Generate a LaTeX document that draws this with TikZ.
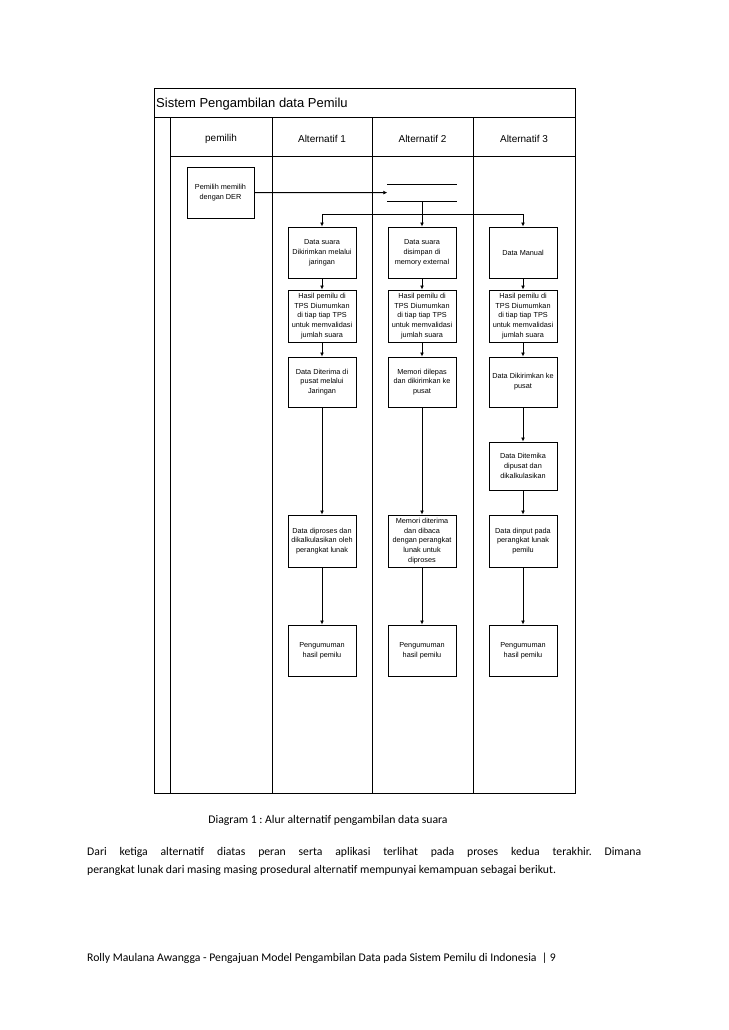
\documentclass[tikz,border=0pt]{standalone}
\usepackage{fontspec}
\setmainfont{Liberation Sans}
\newfontfamily\calib{Carlito}
\usetikzlibrary{arrows.meta}
\frenchspacing
\begin{document}
\begin{tikzpicture}[x=1pt,y=-1pt,
  ln/.style={line width=1pt},
  box/.style={draw,line width=1pt,minimum width=68pt,inner sep=1pt,align=center,font=\fontsize{7.3}{9.8}\selectfont},
  arr/.style={line width=1pt,-{Latex[length=4pt,width=4pt]}},
  hdr/.style={font=\fontsize{10}{12}\selectfont,inner sep=0},
  body/.style={font=\calib\fontsize{11.7}{14}\selectfont,inner sep=0,anchor=base west}]
\fill[white] (0,0) rectangle (728,1030);
\useasboundingbox (0,0) rectangle (728,1030);
% frame
\draw[ln] (154.5,89) rectangle (575,793);
\draw[ln] (154.5,118) -- (575,118);
\draw[ln] (170.5,118) -- (170.5,793);
\draw[ln] (170.5,156) -- (575,156);
\draw[ln] (272,118) -- (272,793);
\draw[ln] (372.5,118) -- (372.5,793);
\draw[ln] (473.5,118) -- (473.5,793);
\node[font=\fontsize{13}{15}\selectfont,inner sep=0,anchor=west] (title) at (156,104.5) {Sistem Pengambilan data Pemilu};
\node[hdr] (h0) at (221,139) {pemilih};
\node[hdr] (h1) at (322,139) {Alternatif 1};
\node[hdr] (h2) at (422.5,139) {Alternatif 2};
\node[hdr] (h3) at (524,139) {Alternatif 3};
% pemilih
\node[box,minimum width=67pt,minimum height=51pt] (der) at (220.5,192.5) {Pemilih memilih\\dengan DER};
% store
\node[minimum width=69pt,minimum height=16.7pt,inner sep=0] (store) at (422,192.6) {};
\draw[ln] (store.north west) -- (store.north east);
\draw[ln] (store.south west) -- (store.south east);
% row 1
\node[box,minimum height=51pt] (a1r1) at (322,252.5) {Data suara\\Dikirimkan melalui\\jaringan};
\node[box,minimum height=51pt] (a2r1) at (422,252.5) {Data suara\\disimpan di\\memory external};
\node[box,minimum height=51pt] (a3r1) at (523,252.5) {Data Manual};
% row 2
\node[box,minimum height=52pt] (a1r2) at (322,316) {Hasil pemilu di\\TPS Diumumkan\\di tiap tiap TPS\\untuk memvalidasi\\jumlah suara};
\node[box,minimum height=52pt] (a2r2) at (422,316) {Hasil pemilu di\\TPS Diumumkan\\di tiap tiap TPS\\untuk memvalidasi\\jumlah suara};
\node[box,minimum height=52pt] (a3r2) at (523,316) {Hasil pemilu di\\TPS Diumumkan\\di tiap tiap TPS\\untuk memvalidasi\\jumlah suara};
% row 3
\node[box,minimum height=50pt] (a1r3) at (322,382) {Data Diterima di\\pusat melalui\\Jaringan};
\node[box,minimum height=50pt] (a2r3) at (422,382) {Memori dilepas\\dan dikirimkan ke\\pusat};
\node[box,minimum height=50pt] (a3r3) at (523,382) {Data Dikirimkan ke\\pusat};
% row 4
\node[box,minimum height=48pt] (a3r4) at (523,466) {Data Ditemika\\dipusat dan\\dikalkulasikan};
% row 5
\node[box,minimum height=52pt] (a1r5) at (322,541) {Data diproses dan\\dikalkulasikan oleh\\perangkat lunak};
\node[box,minimum height=52pt] (a2r5) at (422,541) {Memori diterima\\dan dibaca\\dengan perangkat\\lunak untuk\\diproses};
\node[box,minimum height=52pt] (a3r5) at (523,541) {Data dinput pada\\perangkat lunak\\pemilu};
% row 6
\node[box,minimum height=51pt] (a1r6) at (322,650.5) {Pengumuman\\hasil pemilu};
\node[box,minimum height=51pt] (a2r6) at (422,650.5) {Pengumuman\\hasil pemilu};
\node[box,minimum height=51pt] (a3r6) at (523,650.5) {Pengumuman\\hasil pemilu};
% connectors
\draw[arr] (der.east) -- (store.west);
\coordinate (bl) at (a1r1.north |- 0,214.3);
\coordinate (br) at (a3r1.north |- 0,214.3);
\draw[ln] (bl) -- (br);
\draw[arr] (bl) -- (a1r1.north);
\draw[arr] (br) -- (a3r1.north);
\draw[arr] (store.south) -- (a2r1.north);
\foreach \c in {a1,a2,a3}{
  \draw[arr] (\c r1.south) -- (\c r2.north);
  \draw[arr] (\c r2.south) -- (\c r3.north);
  \draw[arr] (\c r5.south) -- (\c r6.north);
}
\draw[arr] (a1r3.south) -- (a1r5.north);
\draw[arr] (a2r3.south) -- (a2r5.north);
\draw[arr] (a3r3.south) -- (a3r4.north);
\draw[arr] (a3r4.south) -- (a3r5.north);
% text below
\node[body,anchor=base] (cap) at (328,823) {Diagram 1 : Alur alternatif pengambilan data suara};
\node[body] (p1) at (87,855) {\makebox[554pt][s]{Dari ketiga alternatif diatas peran serta aplikasi terlihat pada proses kedua terakhir. Dimana}};
\node[body] (p2) at (87,873) {perangkat lunak dari masing masing prosedural alternatif mempunyai kemampuan sebagai berikut.};
\node[body] (foot) at (87,961) {Rolly Maulana Awangga - Pengajuan Model Pengambilan Data pada Sistem Pemilu di Indonesia~~| 9};
\end{tikzpicture}
\end{document}
